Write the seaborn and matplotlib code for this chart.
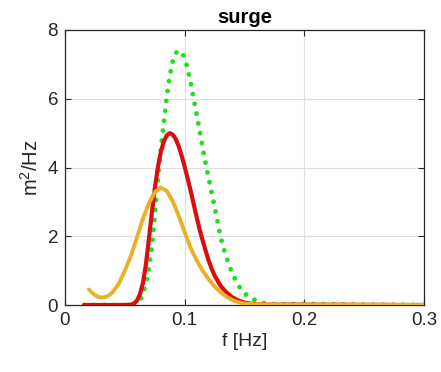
import matplotlib
matplotlib.use("Agg")
import matplotlib.pyplot as plt
import seaborn as sns

# Spectral densities of surge motion (m^2/Hz) against frequency (Hz)
f_green = [0.016, 0.02, 0.03, 0.04, 0.05, 0.055, 0.0575, 0.06, 0.0625, 0.065,
           0.0675, 0.07, 0.0725, 0.075, 0.0775, 0.08, 0.0825, 0.085, 0.0875,
           0.09, 0.0925, 0.095, 0.0975, 0.1, 0.1025, 0.105, 0.1075, 0.11,
           0.1125, 0.115, 0.1175, 0.12, 0.1225, 0.125, 0.1275, 0.13, 0.1325,
           0.135, 0.1375, 0.14, 0.145, 0.15, 0.155, 0.16, 0.165, 0.17, 0.18,
           0.2, 0.22, 0.25, 0.3]
psd_green = [0.0, 0.0, 0.0, 0.0, 0.0, 0.0, 0.01, 0.04, 0.12, 0.3,
             0.62, 1.05, 1.65, 2.6, 3.6, 4.5, 5.3, 6.03, 6.65,
             7.1, 7.33, 7.4, 7.36, 7.18, 6.88, 6.48, 6.0, 5.55,
             5.08, 4.58, 4.12, 3.7, 3.28, 2.86, 2.42, 1.98, 1.65,
             1.38, 1.12, 0.9, 0.56, 0.34, 0.21, 0.12, 0.06, 0.03, 0.02,
             0.03, 0.02, 0.01, 0.0]

f_red = [0.016, 0.02, 0.03, 0.04, 0.05, 0.055, 0.0575, 0.06, 0.0625, 0.065,
         0.0675, 0.07, 0.0725, 0.075, 0.0775, 0.08, 0.0825, 0.085, 0.0875,
         0.09, 0.0925, 0.095, 0.0975, 0.1, 0.1025, 0.105, 0.1075, 0.11,
         0.1125, 0.115, 0.1175, 0.12, 0.1225, 0.125, 0.13, 0.135, 0.14,
         0.145, 0.15, 0.155, 0.16, 0.17, 0.2, 0.3]
psd_red = [0.0, 0.0, 0.0, 0.0, 0.0, 0.01, 0.04, 0.12, 0.3, 0.62,
           1.15, 1.88, 2.66, 3.38, 3.98, 4.44, 4.75, 4.93, 5.0,
           4.96, 4.83, 4.62, 4.34, 4.02, 3.68, 3.32, 2.94, 2.56,
           2.2, 1.88, 1.58, 1.3, 1.06, 0.86, 0.56, 0.36, 0.22,
           0.13, 0.07, 0.04, 0.02, 0.01, 0.01, 0.0]

f_yellow = [0.02, 0.0225, 0.025, 0.0275, 0.03, 0.0325, 0.035, 0.0375, 0.04,
            0.045, 0.05, 0.055, 0.06, 0.065, 0.07, 0.075, 0.08, 0.085, 0.09,
            0.095, 0.1, 0.105, 0.11, 0.115, 0.12, 0.125, 0.13, 0.135, 0.14,
            0.145, 0.15, 0.16, 0.18, 0.2, 0.3]
psd_yellow = [0.45, 0.36, 0.29, 0.24, 0.22, 0.22, 0.25, 0.3, 0.38,
              0.62, 1.0, 1.42, 1.95, 2.5, 2.95, 3.28, 3.42, 3.32, 3.02,
              2.6, 2.12, 1.66, 1.3, 1.0, 0.75, 0.54, 0.37, 0.24, 0.14,
              0.08, 0.04, 0.02, 0.01, 0.01, 0.0]

x_ticks = [0, 0.1, 0.2, 0.3]
x_tick_labels = ["0", "0.1", "0.2", "0.3"]
y_ticks = [0, 2, 4, 6, 8]
y_tick_labels = ["0", "2", "4", "6", "8"]

sns.set_theme(style="whitegrid")
plt.rcParams["font.family"] = ["Liberation Sans", "DejaVu Sans"]
plt.rcParams["mathtext.fontset"] = "custom"
plt.rcParams["mathtext.rm"] = "Liberation Sans"
plt.rcParams["mathtext.it"] = "Liberation Sans"

ink = "#262626"
fig = plt.figure(figsize=(4.41, 3.72), dpi=100)
ax = fig.add_axes([65 / 441, 67 / 372, 359 / 441, 275 / 372])

sns.lineplot(x=f_green, y=psd_green, ax=ax, color="#22dd22", lw=3.5,
             linestyle=(0, (0.001, 2.05)), dash_capstyle="round",
             sort=False, estimator=None, zorder=3)
sns.lineplot(x=f_red, y=psd_red, ax=ax, color="#d90f0f", lw=3.0,
             sort=False, estimator=None, zorder=4)
sns.lineplot(x=f_yellow, y=psd_yellow, ax=ax, color="#eab02a", lw=2.8,
             sort=False, estimator=None, zorder=5)

ax.set_xlim(0, 0.3)
ax.set_ylim(0, 8)
ax.set_xticks(x_ticks)
ax.set_xticklabels(x_tick_labels)
ax.set_yticks(y_ticks)
ax.set_yticklabels(y_tick_labels)

ax.grid(True, color="#dedede", lw=0.8)
ax.set_axisbelow(True)
for side in ["left", "right", "top", "bottom"]:
    ax.spines[side].set_color(ink)
    ax.spines[side].set_linewidth(0.9)
    ax.spines[side].set_visible(True)
ax.tick_params(direction="in", length=4, width=0.8, color=ink,
               bottom=True, left=True, top=True, right=True,
               labelsize=13.5, labelcolor=ink, pad=5)

ax.set_title("surge", fontsize=14.5, fontweight="bold", color="black", pad=5)
ax.set_xlabel("f [Hz]", fontsize=14, color=ink, labelpad=3)
ax.set_ylabel("m$^2$/Hz", fontsize=14.5, color=ink, labelpad=4)

fig.savefig("out.png", dpi=100)
